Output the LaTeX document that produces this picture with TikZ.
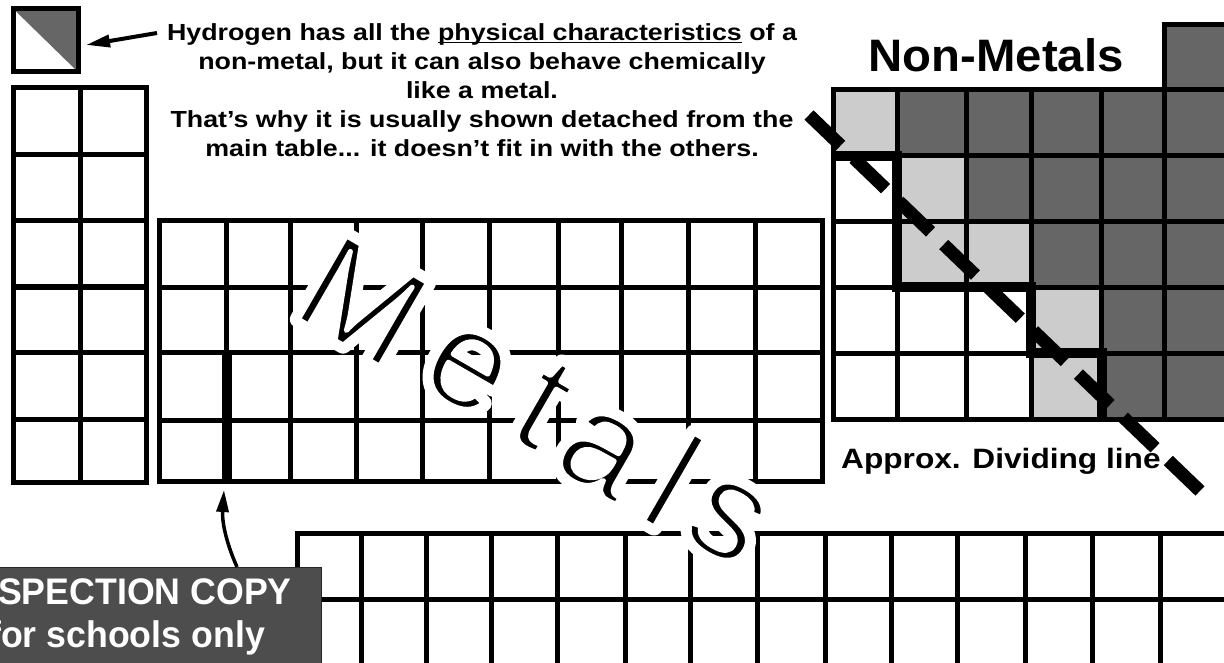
\documentclass[tikz,border=0pt]{standalone}
\usepackage{fontspec}
\setmainfont{Liberation Sans}
\usetikzlibrary{arrows.meta}
\definecolor{dkg}{HTML}{666666}
\definecolor{ltg}{HTML}{CCCCCC}
\definecolor{boxg}{HTML}{4D4D4D}
\newcommand\myul[1]{\setbox0\hbox{#1}\rlap{\rule[-2.3pt]{\wd0}{1.7pt}}\box0\relax}
\newcommand\halotxt[1]{\special{pdf:literal direct 1 Tr 17 w 1 j 1 J}#1\special{pdf:literal direct 0 Tr}}
\newcommand\thintxt[1]{\special{pdf:literal direct 2 Tr 5 w 1 j 1 G}#1\special{pdf:literal direct 0 Tr}}
\begin{document}
\begin{tikzpicture}[x=1pt,y=-1pt,
  gl/.style={line width=5pt, line cap=rect},
  stair/.style={line width=10pt, line join=miter},
  htext/.style={font=\fontsize{23.3}{26}\selectfont\bfseries, xscale=1.15, inner sep=0pt, anchor=base},
  metal/.style={font=\fontsize{140}{140}\selectfont, rotate=-30, inner sep=0pt, anchor=center},
  itext/.style={font=\fontsize{37}{40}\selectfont\bfseries, xscale=0.965, text=white, inner sep=0pt, anchor=base},
  arr/.style={line width=4pt, -{Triangle[length=24pt,width=12pt]}}]
\useasboundingbox (0,0) rectangle (1224,663);
\clip (0,0) rectangle (1224,663);

% hydrogen box
\node[draw, line width=5pt, minimum width=64.5pt, minimum height=63pt, inner sep=0pt,
  path picture={\fill[dkg] (path picture bounding box.north west) -- (path picture bounding box.north east) -- (path picture bounding box.south east) -- cycle;}]
  (hbox) at (45.75,40.5) {};

% groups 1-2
\foreach \y in {88,155,221,287,352,419,482} \draw[gl] (13,\y) -- (146,\y);
\foreach \x in {13,80,146} \draw[gl] (\x,88) -- (\x,482);

% transition block
\foreach \y in {220.7,287.3,352.3,420,481.7} \draw[gl] (159,\y) -- (822.7,\y);
\foreach \x in {159,226.7,290,356.7,422.7,489.3,558.3,621.7,688.3,755,822.7} \draw[gl] (\x,220.7) -- (\x,481.7);
\draw[line width=10pt] (226.7,352.3) -- (226.7,481.7);

% non-metal block fills
\fill[ltg] (833.3,90) rectangle (897.3,155.7);
\fill[ltg] (897.3,155.7) rectangle (966.7,287.3);
\fill[ltg] (966.7,221.7) rectangle (1031,287.3);
\fill[ltg] (1031,287.3) rectangle (1101.7,419);
\fill[dkg] (897.3,90) rectangle (1232,155.7);
\fill[dkg] (966.7,155.7) rectangle (1232,221.7);
\fill[dkg] (1031,221.7) rectangle (1232,287.3);
\fill[dkg] (1101.7,287.3) rectangle (1232,419);
\fill[dkg] (1164.3,25) rectangle (1232,90);
\foreach \y in {90,155.7,221.7,287.3,353.3,419} \draw[gl] (833.3,\y) -- (1232,\y);
\foreach \x in {833.3,897.3,966.7,1031,1101.7,1164.3} \draw[gl] (\x,90) -- (\x,419);
\draw[gl] (1164.3,90) -- (1164.3,25) -- (1232,25);
\draw[stair] (833.3,155.7) -- (897.3,155.7) -- (897.3,287.3) -- (1031,287.3) -- (1031,353.3) -- (1101.7,353.3) -- (1101.7,419);

% f-block
\foreach \y in {533.3,599.3,670} \draw[gl] (297.3,\y) -- (1232,\y);
\foreach \x in {297.3,361.7,426,491.7,557.3,625,690,757.3,825,891.7,957.3,1025,1092.7,1160,1226} \draw[gl] (\x,533.3) -- (\x,670);

% Metals
\foreach \ch/\px/\py [count=\i] in {M/363/301, e/467/370, t/543/405, a/601/453, l/674/480, s/727/521}
  \node[metal, text=white] (mh\i) at (\px,\py) {\halotxt{\ch}};
\foreach \ch/\px/\py [count=\i] in {M/363/301, e/467/370, t/543/405, a/601/453, l/674/480, s/727/521}
  \node[metal] (m\i) at (\px,\py) {\thintxt{\ch}};

% dividing line
\coordinate (dla) at (809,115);
\coordinate (dlb) at (1200,491);
\draw[line width=13pt, dash pattern=on 44pt off 18.3pt] (dla) -- (dlb);

% texts
\node[htext] (h1) at (482,41) {Hydrogen has all the \myul{physical characteristics} of a};
\node[htext] (h2) at (482,69.5) {non-metal, but it can also behave chemically};
\node[htext] (h3) at (482,99) {like a metal.};
\node[htext] (h4) at (482,128) {That’s why it is usually shown detached from the};
\node[htext] (h5) at (482,157) {main table... it doesn’t fit in with the others.};
\node[font=\fontsize{45.5}{50}\selectfont\bfseries, xscale=1.04, inner sep=0pt, anchor=base west] (nm) at (868.5,72) {Non-Metals};
\node[font=\fontsize{28}{32}\selectfont\bfseries, xscale=1.13, inner sep=0pt, anchor=base west] (approx) at (841,468) {Approx. Dividing line};

% hydrogen arrow
\coordinate (htail) at (157,33);
\coordinate (htip) at (86,45);
\draw[arr] (htail) -- (htip);

% inspection box
\node[draw=black!85, line width=1.2pt, fill=boxg, minimum width=325.5pt, minimum height=103pt, inner sep=0pt, anchor=north west] (ibox) at (-5,567) {};
\node[itext] (i1) at (127,604) {INSPECTION COPY};
\node[itext] (i2) at (127,647) {for schools only};
\coordinate (cstart) at (237,567);
\coordinate (ctip) at (224,490);
\draw[line width=3.5pt, -{Triangle[length=22pt,width=12pt]}] (cstart) .. controls (225,540) and (222,520) .. (ctip);
\end{tikzpicture}
\end{document}
